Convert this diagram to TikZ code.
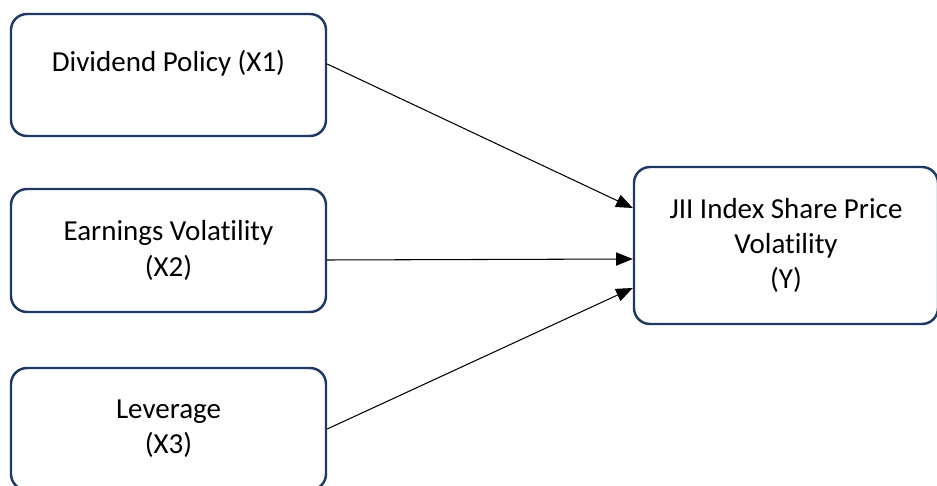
\documentclass[tikz,border=0pt]{standalone}
\definecolor{navy}{HTML}{1F3864}
\usepackage{fontspec}
\setmainfont{Carlito}[Ligatures=NoCommon]
\usepackage{tikz}
\usetikzlibrary{arrows.meta}
\usetikzlibrary{calc}
\begin{document}
\begin{tikzpicture}[
	varbox/.style={draw=navy, line width=1.4pt, rounded corners=0.32cm, align=center,
		minimum width=6.3cm, minimum height=2.44cm, font=\fontsize{16.5}{20}\selectfont},
	link/.style={line width=0.6pt, -{Triangle[length=9.5pt, width=7.5pt]}}]
	\useasboundingbox (0,0) rectangle (18.74,9.7);
	%independent variables
	\node[varbox, text depth=0.55cm] (x1) at (3.37,8.2) {Dividend Policy (X1)};
	\node[varbox, minimum height=2.46cm] (x2) at (3.37,4.69) {Earnings Volatility\\(X2)};
	\node[varbox] (x3) at (3.37,1.12) {Leverage\\(X3)};
	%dependent variable
	\node[varbox, minimum width=6.08cm, minimum height=3.14cm] (y) at (15.72,4.79)
		{JII Index Share Price\\Volatility\\(Y)};
	\draw[link] ([yshift=0.22cm]x1.east) -- ([yshift=0.75cm]y.west);
	\draw[link] ([yshift=-0.19cm]x2.east) -- ([yshift=-0.27cm]y.west);
	\draw[link] (x3.east) -- ([yshift=-0.85cm]y.west);
\end{tikzpicture}
\end{document}
